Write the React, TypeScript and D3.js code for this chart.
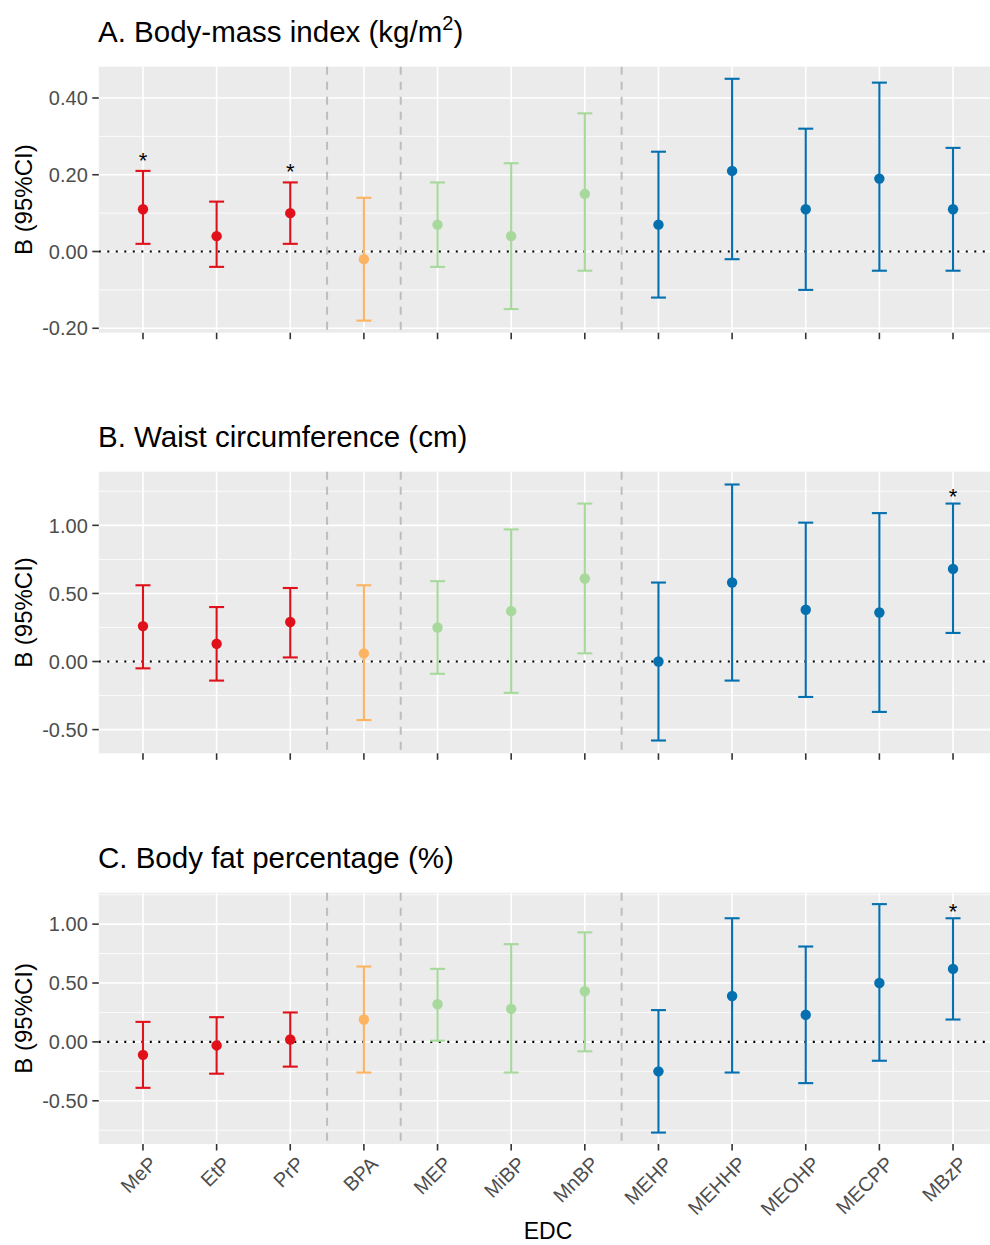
import React from "react";
import * as d3 from "d3";

const categories = ["MeP", "EtP", "PrP", "BPA", "MEP", "MiBP", "MnBP", "MEHP", "MEHHP", "MEOHP", "MECPP", "MBzP"];
const groups = ["par", "par", "par", "bis", "lmw", "lmw", "lmw", "hmw", "hmw", "hmw", "hmw", "hmw"];
const groupColors: Record<string, string> = {
  par: "#e0111b",
  bis: "#fdb462",
  lmw: "#a6d99b",
  hmw: "#0570b0",
};
// dashed separators sit between these category pairs
const separators = [["PrP", "BPA"], ["BPA", "MEP"], ["MnBP", "MEHP"]];

const bmiEst = [0.11, 0.04, 0.1, -0.02, 0.07, 0.04, 0.15, 0.07, 0.21, 0.11, 0.19, 0.11];
const bmiLow = [0.02, -0.04, 0.02, -0.18, -0.04, -0.15, -0.05, -0.12, -0.02, -0.1, -0.05, -0.05];
const bmiHigh = [0.21, 0.13, 0.18, 0.14, 0.18, 0.23, 0.36, 0.26, 0.45, 0.32, 0.44, 0.27];
const bmiSig = ["MeP", "PrP"];

const waistEst = [0.26, 0.13, 0.29, 0.06, 0.25, 0.37, 0.61, 0.0, 0.58, 0.38, 0.36, 0.68];
const waistLow = [-0.05, -0.14, 0.03, -0.43, -0.09, -0.23, 0.06, -0.58, -0.14, -0.26, -0.37, 0.21];
const waistHigh = [0.56, 0.4, 0.54, 0.56, 0.59, 0.97, 1.16, 0.58, 1.3, 1.02, 1.09, 1.16];
const waistSig = ["MBzP"];

const fatEst = [-0.11, -0.03, 0.02, 0.19, 0.32, 0.28, 0.43, -0.25, 0.39, 0.23, 0.5, 0.62];
const fatLow = [-0.39, -0.27, -0.21, -0.26, 0.01, -0.26, -0.08, -0.77, -0.26, -0.35, -0.16, 0.19];
const fatHigh = [0.17, 0.21, 0.25, 0.64, 0.62, 0.83, 0.93, 0.27, 1.05, 0.81, 1.17, 1.05];
const fatSig = ["MBzP"];

const bmiTicks = [-0.2, 0, 0.2, 0.4];
const waistTicks = [-0.5, 0, 0.5, 1.0];
const fatTicks = [-0.5, 0, 0.5, 1.0];

const FONT = "'Liberation Sans', Arial, sans-serif";
const W = 990;
const H = 1245;
const left = 98.8;
const right = 997.2;

const x = d3.scalePoint<string>().domain(categories).range([left, right]).padding(0.6);

function Panel({ title, sup, top, bottom, est, low, high, sig, ticks, starGap, showLabels }) {
  const lo = d3.min(low) as number;
  const hi = d3.max(high) as number;
  const pad = (hi - lo) * 0.05;
  const y = d3.scaleLinear().domain([lo - pad, hi + pad]).range([bottom, top]);
  const step = ticks[1] - ticks[0];
  const minor = d3
    .range(ticks.length + 1)
    .map((i) => ticks[0] - step / 2 + i * step)
    .filter((v) => v >= y.domain()[0] && v <= y.domain()[1]);
  const fmt = (v: number) => v.toFixed(2);

  return (
    <g>
      <text x={98} y={top - 25} fontSize={29.5} fontFamily={FONT} fill="#000">
        {title}
        {sup && (
          <>
            <tspan fontSize={20} dy={-12}>
              {sup}
            </tspan>
            <tspan dy={12}>)</tspan>
          </>
        )}
      </text>
      <rect x={left} y={top} width={right - left} height={bottom - top} fill="#ebebeb" />
      {minor.map((v) => (
        <line key={"mi" + v} x1={left} x2={right} y1={y(v)} y2={y(v)} stroke="#fff" strokeWidth={0.8} />
      ))}
      {ticks.map((v) => (
        <line key={"ma" + v} x1={left} x2={right} y1={y(v)} y2={y(v)} stroke="#fff" strokeWidth={1.6} />
      ))}
      {categories.map((c) => (
        <line key={"v" + c} x1={x(c)} x2={x(c)} y1={top} y2={bottom} stroke="#fff" strokeWidth={1.6} />
      ))}
      {separators.map(([a, b]) => {
        const sx = ((x(a) as number) + (x(b) as number)) / 2;
        return (
          <line
            key={"s" + a}
            x1={sx}
            x2={sx}
            y1={top}
            y2={bottom}
            stroke="#bdbdbd"
            strokeWidth={2}
            strokeDasharray="8 7"
          />
        );
      })}
      <line
        x1={left}
        x2={right}
        y1={y(0)}
        y2={y(0)}
        stroke="#000"
        strokeWidth={2.2}
        strokeDasharray="2 6.5"
      />
      {categories.map((c, i) => {
        const cx = x(c) as number;
        const col = groupColors[groups[i]];
        return (
          <g key={"e" + c}>
            <line x1={cx} x2={cx} y1={y(low[i])} y2={y(high[i])} stroke={col} strokeWidth={2.1} />
            <line x1={cx - 7.5} x2={cx + 7.5} y1={y(low[i])} y2={y(low[i])} stroke={col} strokeWidth={2.1} />
            <line x1={cx - 7.5} x2={cx + 7.5} y1={y(high[i])} y2={y(high[i])} stroke={col} strokeWidth={2.1} />
            <circle cx={cx} cy={y(est[i])} r={5.2} fill={col} />
            {sig.includes(c) && (
              <text
                x={cx}
                y={y(high[i]) - starGap}
                textAnchor="middle"
                fontSize={22}
                fontFamily={FONT}
                fill="#000"
              >
                *
              </text>
            )}
          </g>
        );
      })}
      {ticks.map((v) => (
        <g key={"t" + v}>
          <line x1={left - 6.5} x2={left} y1={y(v)} y2={y(v)} stroke="#333" strokeWidth={1.6} />
          <text
            x={left - 11}
            y={y(v)}
            dy="0.36em"
            textAnchor="end"
            fontSize={20}
            fontFamily={FONT}
            fill="#4d4d4d"
          >
            {fmt(v)}
          </text>
        </g>
      ))}
      {categories.map((c) => (
        <line key={"xt" + c} x1={x(c)} x2={x(c)} y1={bottom} y2={bottom + 6.5} stroke="#333" strokeWidth={1.6} />
      ))}
      {showLabels &&
        categories.map((c) => (
          <text
            key={"xl" + c}
            transform={`translate(${(x(c) as number) + 5},${bottom + 11}) rotate(-45)`}
            dy="0.72em"
            textAnchor="end"
            fontSize={20}
            fontFamily={FONT}
            fill="#4d4d4d"
          >
            {c}
          </text>
        ))}
      <text
        transform={`translate(32,${(top + bottom) / 2}) rotate(-90)`}
        textAnchor="middle"
        fontSize={24}
        fontFamily={FONT}
        fill="#000"
      >
        B (95%CI)
      </text>
    </g>
  );
}

export default function App() {
  return (
    <svg
      width={W}
      height={H}
      style={{ position: "absolute", left: 0, top: 0, background: "#fff" }}
    >
      <rect width={W} height={H} fill="#fff" />
      <Panel
        title="A. Body-mass index (kg/m"
        sup="2"
        top={66.7}
        bottom={332.7}
        est={bmiEst}
        low={bmiLow}
        high={bmiHigh}
        sig={bmiSig}
        ticks={bmiTicks}
        starGap={3}
        showLabels={false}
      />
      <Panel
        title="B. Waist circumference (cm)"
        sup={null}
        top={471.7}
        bottom={753.3}
        est={waistEst}
        low={waistLow}
        high={waistHigh}
        sig={waistSig}
        ticks={waistTicks}
        starGap={0}
        showLabels={false}
      />
      <Panel
        title="C. Body fat percentage (%)"
        sup={null}
        top={892.7}
        bottom={1144}
        est={fatEst}
        low={fatLow}
        high={fatHigh}
        sig={fatSig}
        ticks={fatTicks}
        starGap={-1}
        showLabels={true}
      />
      <text x={(left + right) / 2} y={1239} textAnchor="middle" fontSize={23} fontFamily={FONT} fill="#000">
        EDC
      </text>
    </svg>
  );
}
